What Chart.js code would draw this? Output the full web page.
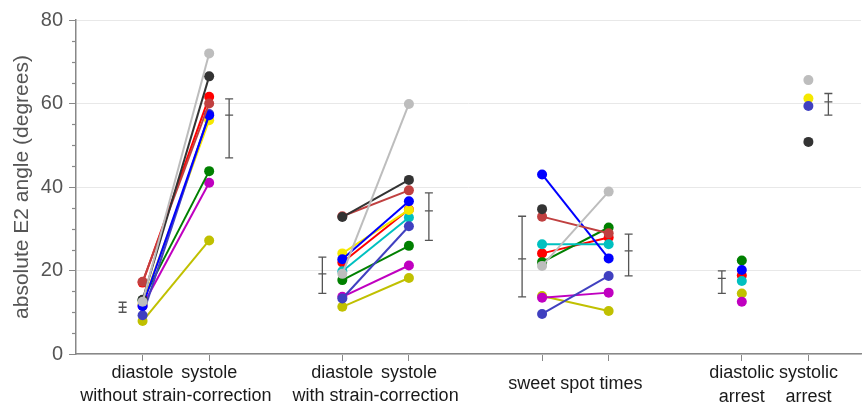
<!DOCTYPE html>
<html>
<head>
<meta charset="utf-8">
<script src="https://cdn.jsdelivr.net/npm/chart.js@4.4.1/dist/chart.umd.min.js"></script>
<style>
  html, body { margin: 0; padding: 0; background: #fff; }
  #wrap { width: 866px; height: 409px; position: relative; }
</style>
</head>
<body>
<div id="wrap"><canvas id="chart"></canvas></div>
<script>
// x positions of the eight measurement columns
const groupX = [1, 2, 4, 5, 7, 8, 10, 11];
const tickLabels = ['diastole', 'systole', 'diastole', 'systole', '', '', ['diastolic', 'arrest'], ['systolic', 'arrest']];
const groupCaptions = ['without strain-correction', 'with strain-correction', 'sweet spot times'];
const yTicks = [0, 20, 40, 60, 80];

// one value per column: [d w/o, s w/o, d with, s with, sweet 1, sweet 2, diastolic arrest, systolic arrest]
const grayVals    = [12.5, 72.0, 19.2, 59.9, 21.1, 38.9, null, 65.6];
const blackVals   = [13.0, 66.5, 32.8, 41.7, 34.7, null, null, 50.8];
const redVals     = [17.1, 61.6, 21.9, 34.6, 24.1, 27.9, 18.8, null];
const brownVals   = [17.3, 60.0, 33.0, 39.2, 32.9, 28.9, null, null];
const blueVals    = [11.5, 57.2, 22.7, 36.6, 43.0, 22.9, 20.1, null];
const indigoVals  = [9.3, 57.5, 13.3, 30.6, 9.6, 18.7, null, 59.4];
const yellowVals  = [12.0, 56.0, 24.1, 34.5, null, null, null, 61.2];
const cyanVals    = [null, null, 19.8, 32.7, 26.3, 26.3, 17.5, null];
const greenVals   = [12.9, 43.8, 17.7, 25.9, 22.0, 30.3, 22.4, null];
const magentaVals = [11.5, 41.0, 13.7, 21.2, 13.5, 14.7, 12.5, null];
const oliveVals   = [7.9, 27.2, 11.3, 18.2, 13.9, 10.3, 14.5, null];

// error bars (mean with low/high) beside each column
const errX    = [0.7, 2.3, 3.7, 5.3, 6.7, 8.3, 9.7, 11.3];
const errMean = [11.2, 57.2, 19.2, 34.3, 22.8, 24.7, 18.1, 60.4];
const errLow  = [10.0, 47.0, 14.5, 27.2, 13.7, 18.7, 14.5, 57.2];
const errHigh = [12.4, 61.1, 23.2, 38.6, 33.0, 28.7, 19.9, 62.4];

const FONT = "'Liberation Sans', Arial, Helvetica, sans-serif";

function series(vals, color, order) {
    return {
        data: groupX.map((x, i) => ({ x: x, y: vals[i] })),
        order: order || 0,
        borderColor: color,
        backgroundColor: color,
        borderWidth: 2,
        pointRadius: 5,
        pointHoverRadius: 5,
        pointBorderWidth: 0,
        spanGaps: false,
        segment: {
            // only diastole -> systole pairs of the first three groups are joined
            borderColor: ctx => (ctx.p0DataIndex % 2 === 0 && ctx.p1DataIndex === ctx.p0DataIndex + 1 && ctx.p0DataIndex < 6) ? color : 'rgba(0,0,0,0)'
        }
    };
}

const errorBars = {
    id: 'errorBars',
    afterDatasetsDraw(chart) {
        const xs = chart.scales.x, ys = chart.scales.y, c = chart.ctx;
        c.save();
        c.strokeStyle = '#555';
        c.lineWidth = 1.3;
        errX.forEach((v, i) => {
            const px = xs.getPixelForValue(v);
            const lo = ys.getPixelForValue(errLow[i]);
            const hi = ys.getPixelForValue(errHigh[i]);
            const m = ys.getPixelForValue(errMean[i]);
            c.beginPath();
            c.moveTo(px, lo); c.lineTo(px, hi);
            [lo, hi, m].forEach(py => { c.moveTo(px - 4, py); c.lineTo(px + 4, py); });
            c.stroke();
        });
        c.restore();
    }
};

const extras = {
    id: 'extras',
    afterDraw(chart) {
        const xs = chart.scales.x, ys = chart.scales.y, c = chart.ctx;
        c.save();
        // minor ticks on the y axis
        c.strokeStyle = '#888';
        c.lineWidth = 1.2;
        for (let v = 5; v < 80; v += 5) {
            if (v % 20 === 0) continue;
            const py = Math.round(ys.getPixelForValue(v)) + 0.5;
            c.beginPath();
            c.moveTo(ys.right - 4, py); c.lineTo(ys.right, py);
            c.stroke();
        }
        // group captions under the tick labels
        c.fillStyle = '#1a1a1a';
        c.font = '18px ' + FONT;
        c.textAlign = 'center';
        c.textBaseline = 'middle';
        const mid = (a, b) => (xs.getPixelForValue(a) + xs.getPixelForValue(b)) / 2;
        c.fillText(groupCaptions[0], mid(groupX[0], groupX[1]), 396);
        c.fillText(groupCaptions[1], mid(groupX[2], groupX[3]), 396);
        c.fillText(groupCaptions[2], mid(groupX[4], groupX[5]), 384);
        c.restore();
    }
};

const chartData = {
    datasets: [
        series(grayVals, '#bdbdbd'),
        series(blackVals, '#333333'),
        series(redVals, '#ff0000', 1),
        series(brownVals, '#c04040'),
        series(blueVals, '#0000ff'),
        series(indigoVals, '#4040c0'),
        series(yellowVals, '#f5e800'),
        series(cyanVals, '#00c0c0'),
        series(greenVals, '#008000'),
        series(magentaVals, '#c000c0'),
        series(oliveVals, '#c0c000')
    ]
};

new Chart(document.getElementById('chart').getContext('2d'), {
    type: 'line',
    data: chartData,
    options: {
        responsive: true,
        maintainAspectRatio: false,
        animation: false,
        layout: { padding: { top: 20, right: 0, left: 0, bottom: 0 } },
        plugins: { legend: { display: false }, tooltip: { enabled: false } },
        scales: {
            x: {
                type: 'linear',
                min: 0,
                max: 11.79,
                afterBuildTicks: scale => { scale.ticks = groupX.map(v => ({ value: v })); },
                afterFit: scale => { scale.height = 55; },
                ticks: {
                    autoSkip: false,
                    maxRotation: 0,
                    padding: 0,
                    color: '#1a1a1a',
                    font: { family: FONT, size: 18, lineHeight: 1.35 },
                    callback: (value, index) => tickLabels[index]
                },
                grid: { drawOnChartArea: false, drawTicks: true, tickLength: 7, color: '#888' },
                border: { color: '#888', width: 1.5 }
            },
            y: {
                min: 0,
                max: 80,
                afterBuildTicks: scale => { scale.ticks = yTicks.map(v => ({ value: v })); },
                afterFit: scale => { scale.width = 76; },
                ticks: {
                    padding: 6,
                    color: '#555',
                    font: { family: FONT, size: 20 }
                },
                grid: { color: '#e8e8e8', tickColor: '#888', tickLength: 7, lineWidth: 1 },
                border: { color: '#888', width: 1.5 },
                title: {
                    display: true,
                    text: 'absolute E2 angle (degrees)',
                    color: '#555',
                    font: { family: FONT, size: 21 },
                    padding: { top: 10, bottom: 0 }
                }
            }
        }
    },
    plugins: [errorBars, extras]
});
</script>
</body>
</html>
